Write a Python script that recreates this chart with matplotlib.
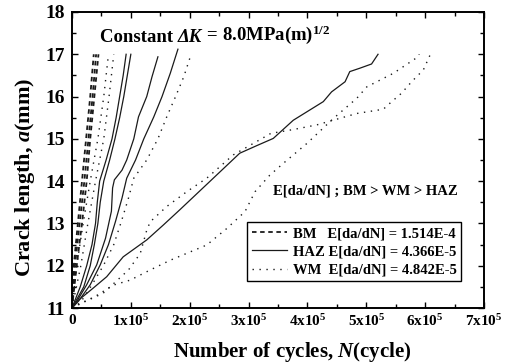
import matplotlib
matplotlib.use('Agg')
import matplotlib.pyplot as plt
from matplotlib.ticker import MultipleLocator, FixedLocator, FixedFormatter

plt.rcParams['font.family'] = ['Liberation Serif', 'DejaVu Serif']
plt.rcParams['font.weight'] = 'bold'
plt.rcParams['mathtext.fontset'] = 'custom'
plt.rcParams['mathtext.rm'] = 'Liberation Serif:bold'
plt.rcParams['mathtext.bf'] = 'Liberation Serif:bold'
plt.rcParams['mathtext.it'] = 'Liberation Serif:bold:italic'

# ---------------- data (N in thousands of cycles, a in mm) ----------------
a_bm = [11, 12, 13, 14, 15, 16, 17]
N_bm1 = [0, 3, 10, 17, 24, 31, 37]
N_bm2 = [0, 5, 13, 21, 28, 35, 41]
N_bm3 = [0, 8, 17, 25, 31, 38, 45]

a_haz_pair = [11, 11.5, 12, 12.5, 13, 13.5, 14, 14.5, 15, 15.5, 16, 16.5, 17]
N_haz1 = [0, 14, 25, 34, 40, 43, 47, 58, 68, 75, 81, 87, 92]
N_haz2 = [0, 20, 31, 38, 44, 48, 54, 64, 73, 81, 88, 94, 100]

a_haz3 = [11, 11.08, 11.55, 12.02, 12.65, 13.29, 13.84, 14.03, 14.26, 14.5, 15.0, 15.52, 16.0, 16.47, 16.94]
N_haz3 = [0, 5, 25, 42, 57, 67, 69, 72, 85, 93, 105, 113, 127, 136, 146]

a_haz4 = [11, 11.16, 11.55, 12.02, 12.5, 13.05, 13.6, 14.07, 14.5, 15.0, 15.52, 16.0, 16.55, 17.12]
N_haz4 = [0, 11, 31, 48, 62, 74, 85, 93, 108, 122, 139, 153, 167, 180]

a_haz5 = [11.0, 11.15, 11.47, 11.74, 12.21, 12.61, 12.96, 13.32, 13.95, 14.66, 14.84, 15.01,
          15.44, 15.88, 16.11, 16.35, 16.59, 16.67, 16.77, 17.0]
N_haz5 = [0, 8, 36, 59, 87, 127, 155, 183, 231, 285, 314, 342, 376, 427, 441, 464, 472, 489, 509, 520]

a_wm12 = [11, 12, 13, 14, 15, 16, 17]
N_wm1 = [0, 8, 19, 31, 44, 54, 62]
N_wm2 = [0, 15, 27, 40, 54, 63, 71]

a_wm3 = [11, 11.12, 11.55, 12.02, 12.5, 13.05, 13.6, 14.07, 14.5, 15.0, 15.52, 16.0, 16.47, 16.94]
N_wm3 = [0, 14, 34, 54, 71, 84, 96, 105, 127, 146, 161, 176, 190, 201]

a_wm4 = [11, 11.15, 11.35, 11.9, 12.29, 12.84, 13.04, 13.4, 13.75, 14.07, 14.62, 15.13, 15.22,
         15.33, 15.6, 15.7, 15.84, 16.08, 16.35, 16.63, 16.97]
N_wm4 = [0, 22, 53, 96, 116, 127, 133, 161, 195, 229, 274, 338, 376, 416, 484, 529, 540, 560,
         577, 597, 608]

a_wm5 = [11, 11.07, 11.27, 11.54, 11.66, 11.9, 12.13, 12.49, 12.88, 13.28, 13.75, 14.14, 14.42,
         14.89, 15.48, 15.96, 16.23, 16.55, 16.94, 17.0]
N_wm5 = [0, 8, 39, 70, 99, 133, 167, 229, 263, 294, 311, 336, 359, 399, 444, 484, 501, 546, 588, 590]

bm_curves = [(N_bm1, a_bm), (N_bm2, a_bm), (N_bm3, a_bm)]
haz_curves = [(N_haz1, a_haz_pair), (N_haz2, a_haz_pair), (N_haz3, a_haz3), (N_haz4, a_haz4), (N_haz5, a_haz5)]
wm_curves = [(N_wm1, a_wm12), (N_wm2, a_wm12), (N_wm3, a_wm3), (N_wm4, a_wm4), (N_wm5, a_wm5)]

legend_labels = ['BM   E[da/dN] = 1.514E-4',
                 'HAZ E[da/dN] = 4.366E-5',
                 'WM  E[da/dN] = 4.842E-5']

x_ticks = [0, 100000, 200000, 300000, 400000, 500000, 600000, 700000]
x_ticklabels = ['0', r'$\mathbf{1x10^{5}}$', r'$\mathbf{2x10^{5}}$', r'$\mathbf{3x10^{5}}$',
                r'$\mathbf{4x10^{5}}$', r'$\mathbf{5x10^{5}}$', r'$\mathbf{6x10^{5}}$',
                r'$\mathbf{7x10^{5}}$']
y_ticks = [11, 12, 13, 14, 15, 16, 17, 18]

# ---------------- figure ----------------
fig = plt.figure(figsize=(5.08, 3.63), dpi=100)
ax = fig.add_axes([0.1417, 0.1515, 0.8110, 0.8155])

lc = '#1a1a1a'
h_bm = h_haz = h_wm = None
for N, a in bm_curves:
    h_bm, = ax.plot([n * 1000 for n in N], a, color=lc, lw=1.3, ls=(0, (2.5, 2.0)))
for N, a in haz_curves:
    h_haz, = ax.plot([n * 1000 for n in N], a, color=lc, lw=0.9, ls='-')
for N, a in wm_curves:
    h_wm, = ax.plot([n * 1000 for n in N], a, color=lc, lw=1.0, ls=(0, (1, 4)))

ax.set_xlim(0, 700000)
ax.set_ylim(11, 18)
ax.xaxis.set_major_locator(FixedLocator(x_ticks))
ax.xaxis.set_major_formatter(FixedFormatter(x_ticklabels))
ax.xaxis.set_minor_locator(MultipleLocator(50000))
ax.yaxis.set_major_locator(FixedLocator(y_ticks))
ax.yaxis.set_minor_locator(MultipleLocator(0.5))

ax.tick_params(which='both', direction='in', top=True, right=True, width=1.0, color='black')
ax.tick_params(which='major', length=4.5)
ax.tick_params(which='minor', length=3)
ax.tick_params(axis='x', which='major', labelsize=11, pad=4)
ax.tick_params(axis='y', which='major', labelsize=14, pad=5)
for s in ax.spines.values():
    s.set_linewidth(1.4)
    s.set_color('black')

ax.set_xlabel(r'Number of cycles, $\mathit{N}$(cycle)', fontsize=15, fontweight='bold')
ax.set_ylabel(r'Crack length, $\mathit{a}$(mm)', fontsize=16, fontweight='bold')
ax.xaxis.set_label_coords(0.534, -0.149)
ax.xaxis.label.set_va('center')
ax.yaxis.set_label_coords(-0.113, 0.443)
ax.yaxis.label.set_va('center')

t1 = ax.text(0.068, 0.885, 'Constant ', transform=ax.transAxes, fontsize=13.5,
             fontweight='bold', ha='left', va='bottom')
t2 = ax.annotate('ΔK', xy=(1, 0), xycoords=t1, fontsize=13.5, fontweight='bold',
                 fontstyle='italic', ha='left', va='bottom')
t3 = ax.annotate(r' = 8.0MPa(m)$^{\mathbf{1/2}}$', xy=(1, 0), xycoords=t2, fontsize=13.5,
                 fontweight='bold', ha='left', va='bottom')
ax.text(0.488, 0.395, 'E[da/dN] ; BM > WM > HAZ', transform=ax.transAxes,
        fontsize=10.5, fontweight='bold', ha='left', va='center')

leg = ax.legend([h_bm, h_haz, h_wm], legend_labels, loc='lower right',
                bbox_to_anchor=(0.944, 0.091), borderaxespad=0, fancybox=False,
                edgecolor='black', framealpha=1, fontsize=10.5, handlelength=2.4,
                handletextpad=0.4, labelspacing=0.35, borderpad=0.3)
leg.get_frame().set_linewidth(1.0)

fig.savefig('out.png', dpi=100)
